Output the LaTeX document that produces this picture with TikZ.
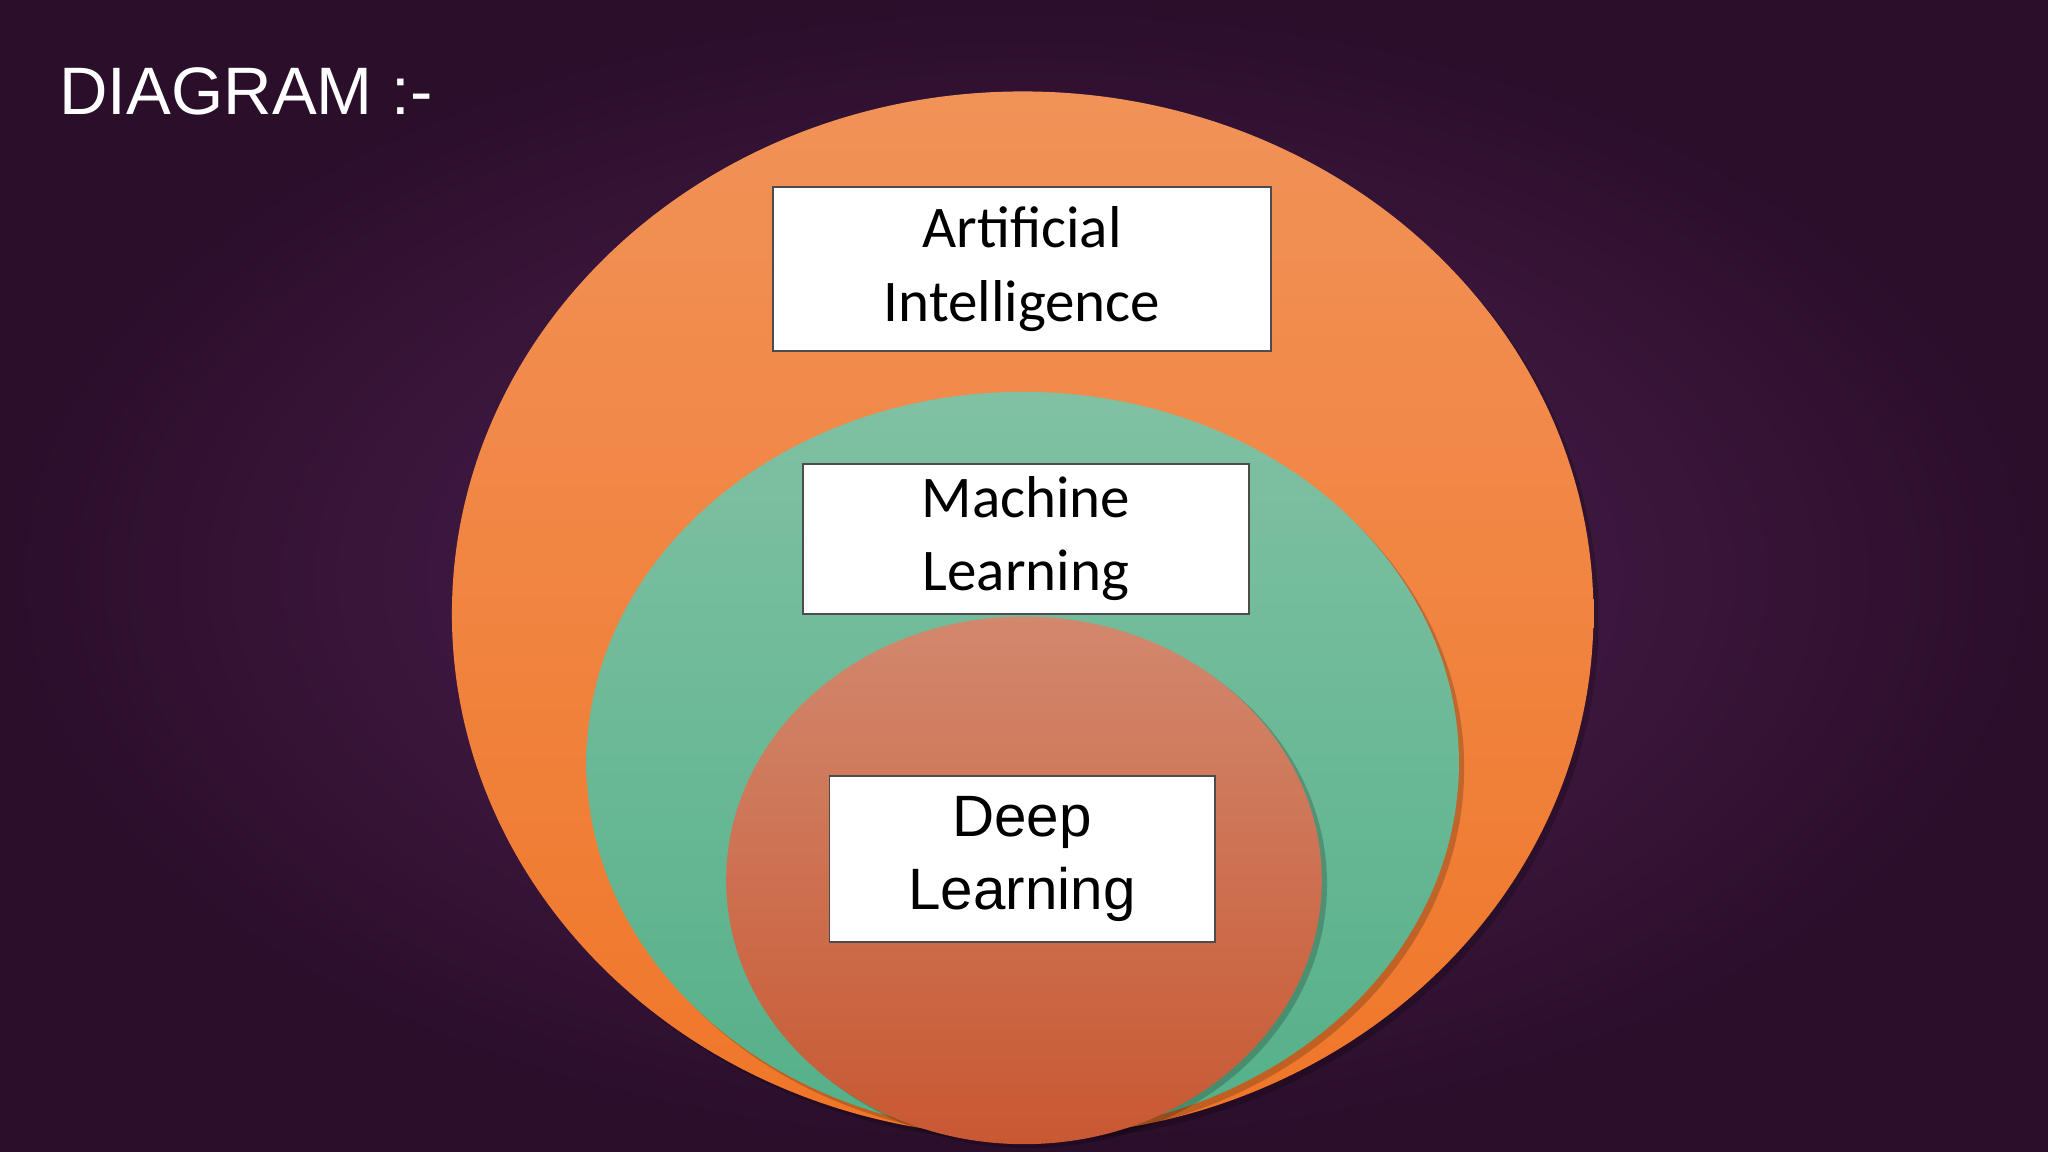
\documentclass[tikz,border=0pt]{standalone}
\usepackage{fontspec}
\setmainfont{Carlito}
\newfontfamily\arialf{Liberation Sans}
\begin{document}
\begin{tikzpicture}[x=0.013061cm,y=-0.013061cm,
  lbl/.style={draw=black!70,line width=0.5pt,fill=white,inner sep=0pt,align=center}]
\useasboundingbox (0,0) rectangle (1568,882);
\fill[inner color={rgb,255:red,84;green,34;blue,86},outer color={rgb,255:red,42;green,14;blue,42}] (0,0) rectangle (1568,882);
\node[anchor=base west,text=white,font=\arialf\fontsize{19.1}{22}\selectfont,inner sep=0] (title) at (45,88) {DIAGRAM :-};
\fill[black,opacity=0.2] (787,474) ellipse [x radius=437,y radius=400];
\shade[top color={rgb,255:red,241;green,146;blue,88},bottom color={rgb,255:red,240;green,118;blue,40}] (783,470) ellipse [x radius=437,y radius=400];
\fill[black,opacity=0.2] (787,588) ellipse [x radius=334,y radius=284];
\shade[top color={rgb,255:red,128;green,193;blue,163},bottom color={rgb,255:red,84;green,176;blue,136}] (783,584) ellipse [x radius=334,y radius=284];
\fill[black,opacity=0.2] (788,677) ellipse [x radius=228,y radius=202];
\shade[top color={rgb,255:red,210;green,136;blue,110},bottom color={rgb,255:red,200;green,88;blue,50}] (784,674) ellipse [x radius=228,y radius=202];
\node[lbl,minimum width=381*0.013061cm,minimum height=126*0.013061cm,font=\fontsize{16.8}{20.8}\selectfont] (ai) at (782.5,206) {Artificial\\Intelligence};
\node[lbl,minimum width=341*0.013061cm,minimum height=115*0.013061cm,font=\fontsize{16.8}{20.8}\selectfont] (ml) at (785.5,412.5) {Machine\\Learning};
\node[lbl,minimum width=295*0.013061cm,minimum height=127*0.013061cm,font=\arialf\fontsize{16.6}{20.8}\selectfont] (dl) at (782.5,657.5) {Deep\\Learning};
\end{tikzpicture}
\end{document}
